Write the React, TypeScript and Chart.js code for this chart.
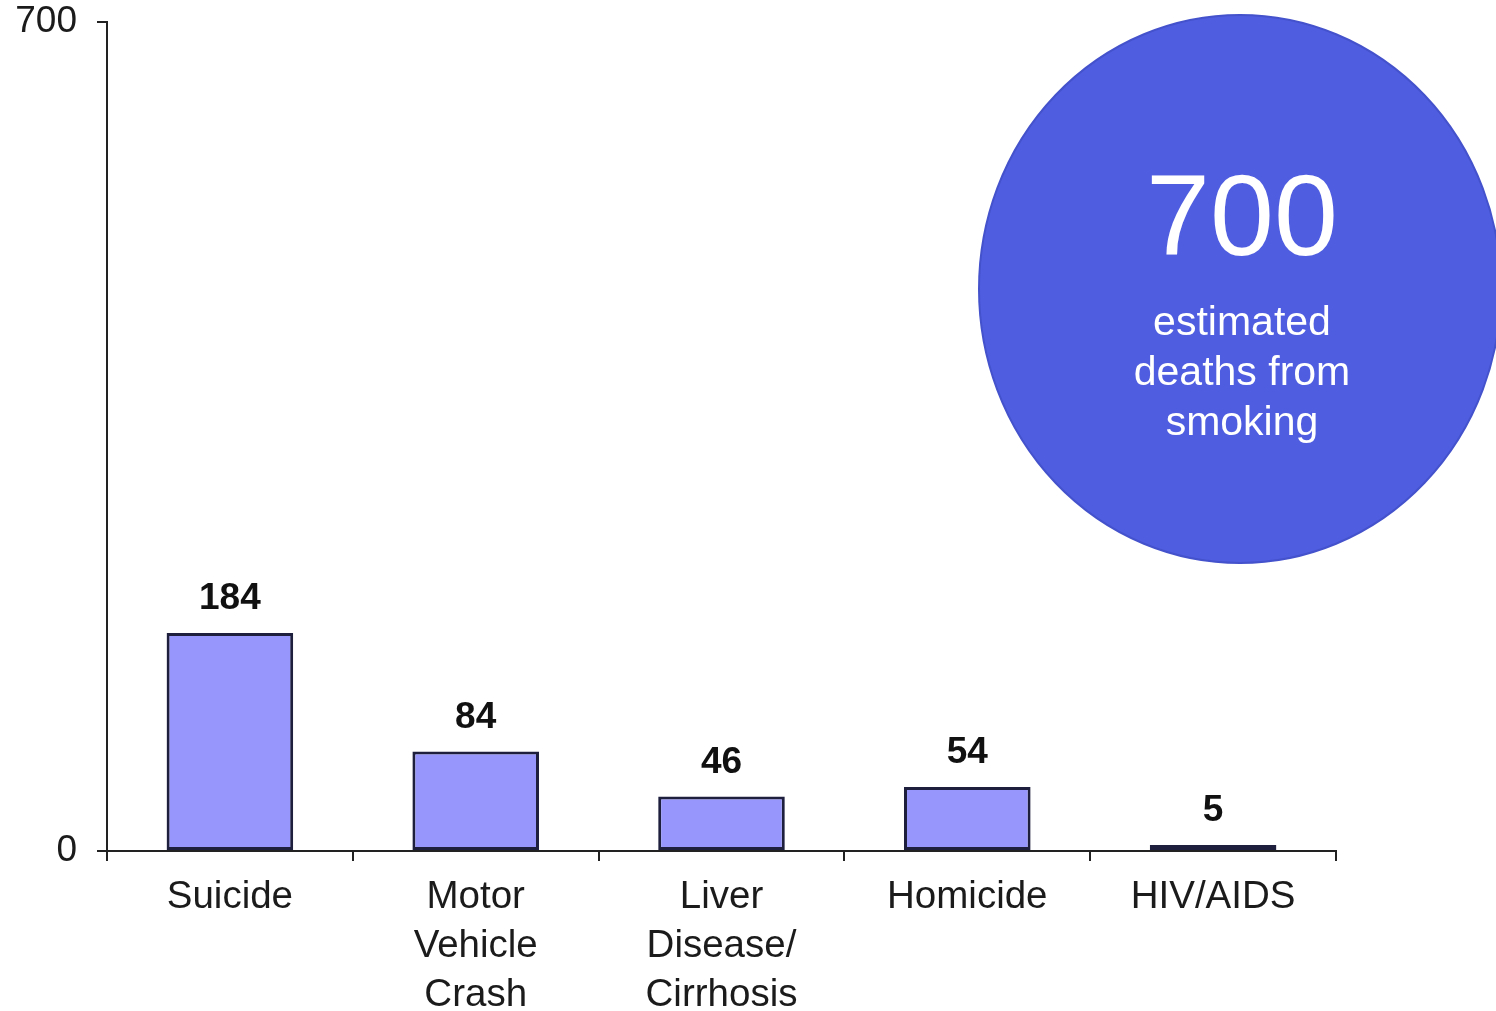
import { useEffect, useRef } from "react";
import { Chart, registerables } from "chart.js";

Chart.register(...registerables);

// Deaths by cause, with the smoking total shown in the badge
const categories: string[][] = [
  ["Suicide"],
  ["Motor", "Vehicle", "Crash"],
  ["Liver", "Disease/", "Cirrhosis"],
  ["Homicide"],
  ["HIV/AIDS"],
];
const deaths = [184, 84, 46, 54, 5];
const yTickValues = [0, 700];
const totalDeaths = 700;
const totalCaption = ["estimated", "deaths from", "smoking"];

const FONT = "'Liberation Sans', Arial, Helvetica, sans-serif";
const INK = "#1b1b1b";
const BAR_FILL = "#9696fd";
const BAR_EDGE = "#1d1f3d";
const BADGE_FILL = "#4f5de0";
const BADGE_EDGE = "#4452cc";

const valueLabels = {
  id: "valueLabels",
  afterDatasetsDraw(chart: Chart) {
    const { ctx } = chart;
    const meta = chart.getDatasetMeta(0);
    ctx.save();
    ctx.fillStyle = "#111";
    ctx.font = `bold 37px ${FONT}`;
    ctx.textAlign = "center";
    ctx.textBaseline = "alphabetic";
    meta.data.forEach((bar: any, i: number) => {
      ctx.fillText(String(deaths[i]), bar.x, bar.y - 24);
    });
    ctx.restore();
  },
};

const totalBadge = {
  id: "totalBadge",
  afterDraw(chart: Chart) {
    const { ctx, chartArea } = chart;
    const cx = chartArea.right - 96;
    const cy = chartArea.top + 267;
    ctx.save();
    ctx.beginPath();
    ctx.ellipse(cx, cy, 261, 274, 0, 0, Math.PI * 2);
    ctx.fillStyle = BADGE_FILL;
    ctx.fill();
    ctx.lineWidth = 2;
    ctx.strokeStyle = BADGE_EDGE;
    ctx.stroke();

    ctx.fillStyle = "#ffffff";
    ctx.textAlign = "center";
    ctx.textBaseline = "alphabetic";
    ctx.font = `115px ${FONT}`;
    ctx.fillText(String(totalDeaths), cx + 2, cy - 34);
    ctx.font = `41px ${FONT}`;
    totalCaption.forEach((line, i) => {
      ctx.fillText(line, cx + 2, cy + 46 + i * 50);
    });
    ctx.restore();
  },
};

export default function App() {
  const canvasRef = useRef<HTMLCanvasElement | null>(null);

  useEffect(() => {
    if (!canvasRef.current) return;
    const chart = new Chart(canvasRef.current, {
      type: "bar",
      data: {
        labels: categories,
        datasets: [
          {
            data: deaths,
            backgroundColor: BAR_FILL,
            borderColor: BAR_EDGE,
            borderWidth: 3,
            borderSkipped: false,
            barPercentage: 0.515,
            categoryPercentage: 1,
          },
        ],
      },
      options: {
        animation: false,
        responsive: false,
        devicePixelRatio: 1,
        layout: { padding: { top: 22, right: 160, left: 0, bottom: 0 } },
        plugins: {
          legend: { display: false },
          tooltip: { enabled: false },
        },
        scales: {
          x: {
            grid: {
              offset: true,
              drawOnChartArea: false,
              drawTicks: true,
              tickLength: 10,
              color: "#222",
              lineWidth: 2,
            },
            border: { color: "#222", width: 2 },
            ticks: {
              color: INK,
              font: { family: FONT, size: 38.5, lineHeight: 1.27 },
              padding: 12,
              maxRotation: 0,
              autoSkip: false,
            },
            afterFit: (scale: any) => {
              scale.height = 160;
              scale.paddingTop = 0;
              scale.paddingBottom = 0;
            },
          },
          y: {
            min: 0,
            max: 700,
            afterBuildTicks: (scale: any) => {
              scale.ticks = yTickValues.map((v) => ({ value: v }));
            },
            grid: {
              drawOnChartArea: false,
              drawTicks: true,
              tickLength: 10,
              color: "#222",
              lineWidth: 2,
            },
            border: { color: "#222", width: 2 },
            ticks: {
              color: INK,
              font: { family: FONT, size: 37, lineHeight: 1.1 },
              padding: 20,
            },
            afterFit: (scale: any) => {
              scale.width = 107;
              scale.paddingTop = 0;
              scale.paddingBottom = 0;
            },
          },
        },
      },
      plugins: [valueLabels, totalBadge],
    });
    return () => chart.destroy();
  }, []);

  return (
    <div
      style={{
        position: "fixed",
        left: 0,
        top: 0,
        width: 1496,
        height: 1011,
        background: "#ffffff",
        overflow: "hidden",
      }}
    >
      <canvas ref={canvasRef} width={1496} height={1011} />
    </div>
  );
}
